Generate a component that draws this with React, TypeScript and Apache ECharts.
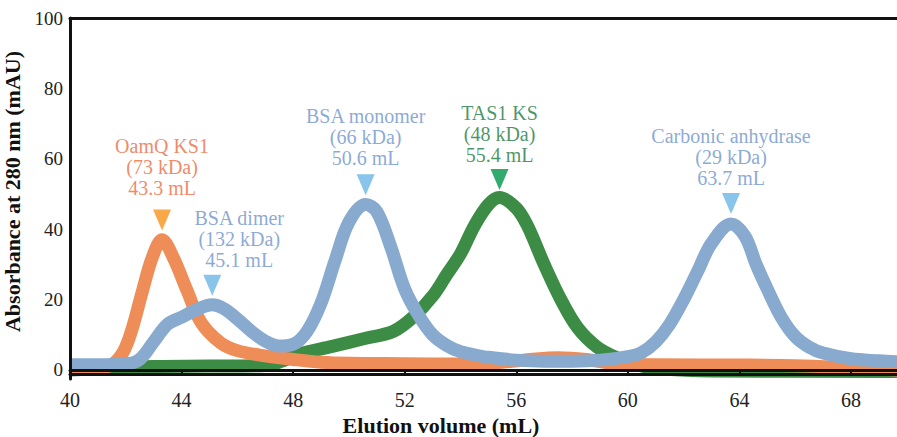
import React, { useEffect, useRef } from "react";
import * as echarts from "echarts";

// Elution profiles (x in mL, y in mAU)
const tasX = [40, 41, 42, 43, 45, 47, 47.6, 48.2, 49.4, 50.6, 51.6, 52.3, 53, 53.5, 54, 54.5, 55, 55.4, 56, 56.4, 57, 57.6, 58.2, 58.9, 59.6, 60.3, 61, 63, 69.7];
const tasY = [0, 0.3, 0.7, 1, 1.1, 1.3, 2.5, 4.5, 6.7, 9, 11, 15, 21, 27, 33, 41, 47, 49, 46, 41, 30, 20, 12, 6.5, 3.5, 1.5, 0.5, -0.3, -0.4];

const oamX = [40, 41, 41.5, 41.9, 42.2, 42.6, 42.95, 43.3, 43.7, 44.2, 44.7, 45.4, 46, 47, 48, 49, 50, 52, 54, 55.5, 56.5, 57.5, 58.5, 59.5, 61, 64, 66, 68, 69.7];
const oamY = [0.3, 0.5, 1.5, 5, 11, 22.5, 32, 37, 32, 22.5, 13.5, 7.7, 5.5, 4, 3, 2.2, 1.9, 1.8, 1.7, 2.2, 3, 3.5, 3, 1.8, 1.5, 1.4, 1.2, 0.6, 0];

const bsaX = [40, 41, 42, 42.5, 43, 43.5, 44, 44.5, 45.1, 45.5, 46, 46.5, 47, 47.5, 48, 48.5, 49, 49.5, 50, 50.6, 51, 51.5, 52, 52.5, 53, 53.5, 54, 54.5, 55, 56, 57, 58, 59, 60, 60.5, 61, 61.5, 62, 62.5, 63, 63.7, 64.2, 64.6, 65, 65.5, 66, 66.5, 67, 68, 69, 69.7];
const bsaY = [1.5, 1.5, 1.7, 3, 8, 13, 15, 17, 18.5, 17.5, 14.5, 11, 8.2, 6.8, 7.3, 11, 19, 31, 42, 47, 45, 35, 23, 15.5, 10, 7, 5.2, 4.3, 3.6, 2.8, 2.5, 2.5, 2.8, 3.8, 5, 8, 13, 20, 28, 36, 41.5, 38, 30, 23, 15, 9.5, 6.5, 4.8, 3.2, 2.6, 2.3];

// Peak annotations
const markerNames = ["OamQ KS1", "BSA dimer", "BSA monomer", "TAS1 KS", "Carbonic anhydrase"];
const markerMass = ["73 kDa", "132 kDa", "66 kDa", "48 kDa", "29 kDa"];
const markerVolume = [43.3, 45.1, 50.6, 55.4, 63.7];
const markerLevel = [42.6, 24.1, 52.6, 54.1, 47.3];
const markerGroup = ["orange", "blue", "blue", "green", "blue"];

const xTicks = [40, 44, 48, 52, 56, 60, 64, 68];
const yTicks = [0, 20, 40, 60, 80, 100];

const FONT = "Liberation Serif, Times New Roman, serif";

const lineColors: Record<string, string> = { orange: "#EE8D57", blue: "#88AACE", green: "#3C8C46" };
const textColors: Record<string, string> = { orange: "#EC6B3F", blue: "#6E93CB", green: "#1A7A3E" };
const triColors: Record<string, string> = { orange: "#F7941D", blue: "#6CB5E6", green: "#00954A" };
const labelDist = [11, 4.5, 6, 4, 4.5];
const labelShift = [0, 27, 0, 0, 0];

const zip = (xs: number[], ys: number[]) => xs.map((x, i) => [x, ys[i]]);

export default function App() {
  const ref = useRef<HTMLDivElement>(null);
  useEffect(() => {
    if (!ref.current) return;
    const chart = echarts.init(ref.current, null, { renderer: "svg" });
    const xMin = 40;
    const xMax = 69.65;
    const lineSeries = (data: number[][], color: string) => ({
      type: "line",
      data,
      smooth: 0.35,
      symbol: "none",
      lineStyle: { color, width: 13, cap: "butt", join: "round" },
      z: 2,
    });
    const markerData = markerVolume.map((v, i) => ({
      value: [v, markerLevel[i]],
      itemStyle: { color: triColors[markerGroup[i]] },
      label: {
        show: true,
        position: "top",
        distance: labelDist[i],
        offset: [labelShift[i], 0],
        formatter: `${markerNames[i]}\n(${markerMass[i]})\n${v.toFixed(1)} mL`,
        color: textColors[markerGroup[i]],
        fontFamily: FONT,
        fontWeight: "normal",
        fontStyle: "normal",
        fontSize: 20,
        lineHeight: 21,
        align: "center",
      },
    }));
    chart.setOption({
      animation: false,
      backgroundColor: "#ffffff",
      textStyle: { fontFamily: FONT },
      grid: { left: 70, right: 0, top: 18, bottom: 437 - 379, containLabel: false, outerBoundsMode: "none" },
      xAxis: [
        {
          type: "value",
          min: xMin,
          max: xMax,
          interval: 4,
          position: "bottom",
          z: 5,
          axisLine: { show: true, lineStyle: { color: "#111", width: 3 } },
          axisTick: { show: true, length: 5, lineStyle: { color: "#111", width: 2 }, customValues: xTicks },
          axisLabel: { show: true, margin: 11, fontSize: 20, fontWeight: "normal", fontStyle: "normal", color: "#222", fontFamily: FONT, customValues: xTicks },
          splitLine: { show: false },
          name: "Elution volume (mL)",
          nameLocation: "middle",
          nameGap: 35,
          nameTextStyle: { fontFamily: FONT, fontSize: 22, fontWeight: "bold", color: "#111", padding: [0, 85, 0, 0] },
        },
        {
          type: "value",
          min: xMin,
          max: xMax,
          position: "bottom",
          offset: -5,
          z: 5,
          axisLine: { show: true, lineStyle: { color: "#111", width: 3 } },
          axisTick: { show: false },
          axisLabel: { show: false },
          splitLine: { show: false },
        },
        {
          type: "value",
          min: xMin,
          max: xMax,
          position: "top",
          z: 5,
          axisLine: { show: true, lineStyle: { color: "#111", width: 3 } },
          axisTick: { show: false },
          axisLabel: { show: false },
          splitLine: { show: false },
        },
      ],
      yAxis: {
        type: "value",
        min: -2.56,
        max: 100,
        z: 5,
        axisLine: { show: true, lineStyle: { color: "#111", width: 3 } },
        axisTick: { show: false, customValues: yTicks },
        axisLabel: { show: true, margin: 7, fontSize: 19, fontWeight: "normal", fontStyle: "normal", color: "#222", fontFamily: FONT, customValues: yTicks },
        splitLine: { show: false },
        name: "Absorbance at 280 nm (mAU)",
        nameLocation: "middle",
        nameGap: 38,
        nameTextStyle: { fontFamily: FONT, fontSize: 22, fontWeight: "bold", color: "#111", padding: [0, 0, 0, 14] },
      },
      series: [
        lineSeries(zip(tasX, tasY), lineColors.green),
        lineSeries(zip(oamX, oamY), lineColors.orange),
        lineSeries(zip(bsaX, bsaY), lineColors.blue),
        {
          type: "scatter",
          data: markerData,
          symbol: "triangle",
          symbolSize: [18, 21],
          symbolRotate: 180,
          z: 4,
        },
      ],
    });
    return () => chart.dispose();
  }, []);
  return <div ref={ref} style={{ position: "absolute", left: 0, top: 0, width: 897, height: 437 }} />;
}
